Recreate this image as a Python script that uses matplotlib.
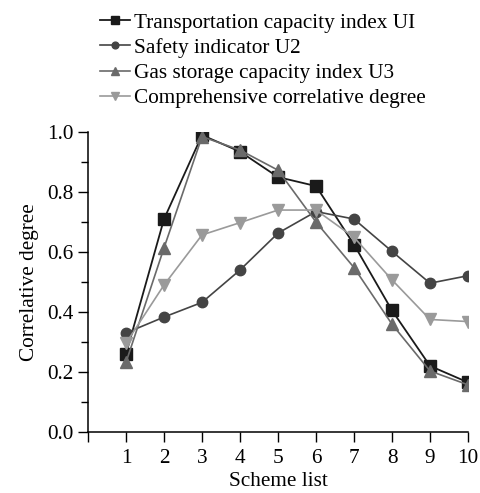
import numpy as np
import matplotlib.pyplot as plt

plt.rcParams['font.family'] = ['Liberation Serif', 'DejaVu Serif']

# data
schemes = [1, 2, 3, 4, 5, 6, 7, 8, 9, 10]
u1 = [0.26, 0.71, 0.99, 0.935, 0.85, 0.82, 0.625, 0.405, 0.22, 0.165]
u2 = [0.33, 0.383, 0.432, 0.54, 0.663, 0.735, 0.71, 0.602, 0.496, 0.521]
u3 = [0.232, 0.614, 0.985, 0.94, 0.873, 0.70, 0.548, 0.359, 0.203, 0.157]
comp = [0.296, 0.49, 0.657, 0.698, 0.74, 0.74, 0.649, 0.507, 0.375, 0.368]

labels = ['Transportation capacity index UI', 'Safety indicator U2',
          'Gas storage capacity index U3', 'Comprehensive correlative degree']

fig = plt.figure(figsize=(4.81, 4.93), dpi=100)
ax = fig.add_axes([0.183, 0.124, 0.79, 0.608])

ax.plot(schemes, u1, color='#1a1a1a', marker='s', ms=8, lw=1.3, label=labels[0])
ax.plot(schemes, u2, color='#444444', marker='o', ms=7.5, lw=1.2, label=labels[1])
ax.plot(schemes, u3, color='#6a6a6a', marker='^', ms=8, lw=1.2, label=labels[2])
ax.plot(schemes, comp, color='#9a9a9a', marker='v', ms=8, lw=1.2, label=labels[3])

ax.set_xlim(0, 10)
ax.set_ylim(0, 1.0)
ax.set_xticks(range(0, 11))
ax.set_xticklabels([''] + [str(s) for s in schemes])
ax.set_yticks(np.arange(0, 1.01, 0.2))
ax.set_yticklabels(['0.0', '0.2', '0.4', '0.6', '0.8', '1.0'])
ax.set_yticks(np.arange(0.1, 1.0, 0.2), minor=True)
ax.tick_params(labelsize=15.3, direction='out', length=7, width=1)
ax.tick_params(axis='x', pad=5)
ax.tick_params(which='minor', length=5, width=1)
ax.spines['top'].set_visible(False)
ax.spines['right'].set_visible(False)
for s in ['left', 'bottom']:
    ax.spines[s].set_linewidth(1.1)

ax.set_xlabel('Scheme list', fontsize=15.3, labelpad=3)
ax.set_ylabel('Correlative degree', fontsize=15.3, labelpad=6)

fig.legend(loc='upper left', bbox_to_anchor=(0.181, 1.0), frameon=False,
           fontsize=15.3, handlelength=1.4, handletextpad=0.2,
           labelspacing=0.25, borderaxespad=0.2, markerscale=0.65)

fig.savefig('out.png', dpi=100)
